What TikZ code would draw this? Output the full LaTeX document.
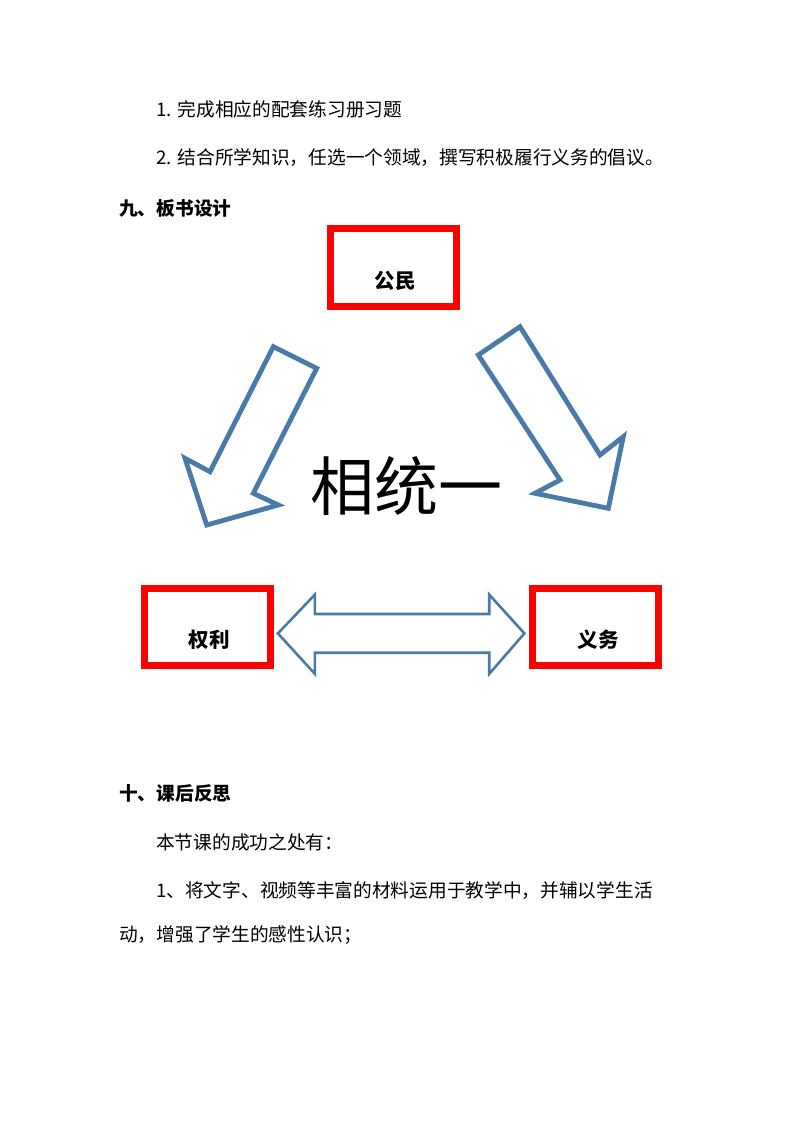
\documentclass[tikz,border=0pt]{standalone}
\usepackage{fontspec}
\newfontfamily\cjk{Noto Sans CJK SC}
\definecolor{arrowblue}{RGB}{74,122,168}
\definecolor{boxred}{RGB}{255,0,0}
\begin{document}
\begin{tikzpicture}[x=1pt,y=-1pt,
  bodytext/.style={anchor=west,inner sep=0pt,font=\cjk\fontsize{18.7}{22}\selectfont},
  headtext/.style={anchor=west,inner sep=0pt,font=\cjk\bfseries\fontsize{18.7}{22}\selectfont},
  redbox/.style={draw=boxred,line width=7pt,minimum width=126pt,minimum height=77pt,inner sep=0pt},
  boxlabel/.style={inner sep=0pt,font=\cjk\bfseries\fontsize{20.5}{24}\selectfont},
  blockarrow/.style={draw=arrowblue,line width=4.8pt,line join=miter,fill=white},
  thinarrow/.style={draw=arrowblue,line width=2.6pt,line join=miter,fill=white}]
\useasboundingbox[fill=white] (0,0) rectangle (794,1123);
% text lines
\node[bodytext] (l1) at (156,109) {1.\hspace{6pt}完成相应的配套练习册习题};
\node[bodytext] (l2) at (156,158) {2.\hspace{6pt}结合所学知识，任选一个领域，撰写积极履行义务的倡议。};
\node[headtext] (h9) at (119,208) {九、板书设计};
% boxes
\node[redbox] (gm) at (393.5,267.5) {};
\node[boxlabel] (gmt) at (395,281) {公民};
\node[redbox] (ql) at (207,626.5) {};
\node[boxlabel] (qlt) at (209,640) {权利};
\node[redbox] (yw) at (595.5,626.5) {};
\node[boxlabel] (ywt) at (598,640) {义务};
% left block arrow (down-left)
\draw[blockarrow] (273.3,346.7) -- (316.7,368.3) -- (253.3,493.3) -- (278.3,505)
  -- (206.7,525) -- (185,458.3) -- (210,471.7) -- cycle;
% right block arrow (down-right)
\draw[blockarrow] (520,326.7) -- (478.3,355) -- (560,480) -- (535,493.3)
  -- (608.3,508.3) -- (623.3,436.7) -- (600,455) -- cycle;
% double arrow
\draw[thinarrow] (277.9,633.4) -- (314.9,594.6) -- (314.9,614) -- (489.2,614)
  -- (489.2,594.6) -- (524.4,633.4) -- (489.2,673.9) -- (489.2,652.7)
  -- (314.9,652.7) -- (314.9,673.9) -- cycle;
% big centre text
\node[inner sep=0pt,font=\cjk\fontsize{64}{70}\selectfont] (xty) at (406,486) {相统一};
% lower text
\node[headtext] (h10) at (119,793) {十、课后反思};
\node[bodytext] (l3) at (156,842) {本节课的成功之处有：};
\node[bodytext] (l4) at (156,891) {1、将文字、视频等丰富的材料运用于教学中，并辅以学生活};
\node[bodytext] (l5) at (119,935) {动，增强了学生的感性认识；};
\end{tikzpicture}
\end{document}
